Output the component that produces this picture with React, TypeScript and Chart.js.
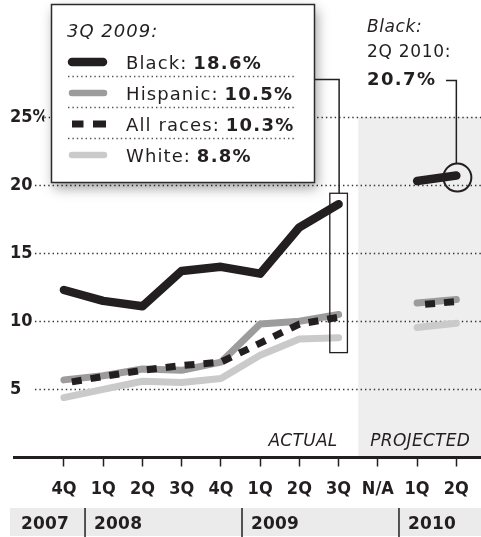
import React, { useEffect, useRef } from 'react';
import { Chart, registerables } from 'chart.js';

Chart.register(...registerables);

// ---------- data ----------
const quarters = ['4Q', '1Q', '2Q', '3Q', '4Q', '1Q', '2Q', '3Q', 'N/A', '1Q', '2Q'];
const years = ['2007', '2008', '2009', '2010'];
const yearFirstQuarter = [0, 1, 5, 9];
const black = [12.3, 11.5, 11.1, 13.7, 14.0, 13.5, 16.9, 18.6, null, 20.3, 20.7];
const hispanic = [5.7, 6.0, 6.5, 6.4, 7.0, 9.8, 10.0, 10.5, null, 11.35, 11.6];
const allRaces = [5.45, 5.95, 6.4, 6.75, 7.0, 8.4, 9.8, 10.3, null, 11.2, 11.45];
const white = [4.4, 5.0, 5.6, 5.5, 5.8, 7.5, 8.7, 8.8, null, 9.55, 9.85];
const yTicks = [5, 10, 15, 20, 25];
const legendTitle = '3Q 2009:';
const legendLabels = ['Black: ', 'Hispanic: ', 'All races: ', 'White: '];
const legendValues = ['18.6%', '10.5%', '10.3%', '8.8%'];
const calloutLines = ['Black:', '2Q 2010:', '20.7%'];
const highlightIndex = 7; // 3Q 2009
const highlightRange = [7.7, 19.4];
const calloutIndex = 10; // 2Q 2010
const actualLabel = 'ACTUAL';
const projectedLabel = 'PROJECTED';

// ---------- styles ----------
const INK = '#231f20';
const HISP = '#9c9c9c';
const WHITE_C = '#cacaca';
const SHADE = '#eeeeee';
const SANS = "'DejaVu Sans', sans-serif";
const NARROW = "'Liberation Sans Narrow', 'DejaVu Sans Condensed', sans-serif";

function setFont(ctx: CanvasRenderingContext2D, font: string, spacing: number) {
  ctx.font = font;
  (ctx as any).letterSpacing = spacing + 'px';
}

function dotted(ctx: CanvasRenderingContext2D, x1: number, x2: number, y: number, color: string) {
  ctx.save();
  ctx.strokeStyle = color;
  ctx.lineWidth = 1.3;
  ctx.setLineDash([1.4, 3]);
  ctx.beginPath();
  ctx.moveTo(x1, y);
  ctx.lineTo(x2, y);
  ctx.stroke();
  ctx.restore();
}

const decor = {
  id: 'decor',
  beforeDatasetsDraw(chart: any) {
    const { ctx, chartArea, scales } = chart;
    const x = scales.x;
    const y = scales.y;
    const sx = (x.getPixelForValue(7) + x.getPixelForValue(8)) / 2;
    const top = y.getPixelForValue(25);
    const bottom = y.getPixelForValue(0);
    ctx.save();
    ctx.fillStyle = SHADE;
    ctx.fillRect(sx, top, chart.width - sx, bottom - top);
    ctx.restore();
    for (const v of yTicks) {
      const py = Math.round(y.getPixelForValue(v)) + 0.5;
      dotted(ctx, v === 25 ? chartArea.left : 35, chart.width, py, '#333');
    }
    // ACTUAL / PROJECTED
    ctx.save();
    ctx.fillStyle = INK;
    setFont(ctx, `oblique 17px ${SANS}`, 0.3);
    ctx.textAlign = 'right';
    ctx.fillText(actualLabel, x.getPixelForValue(7) - 1, 446);
    ctx.textAlign = 'left';
    ctx.fillText(projectedLabel, sx + 12, 446);
    ctx.restore();
  },
  afterDatasetsDraw(chart: any) {
    const { ctx, scales } = chart;
    const x = scales.x;
    const y = scales.y;
    const W = chart.width;

    // legend box
    const boxL = 51, boxT = 4, boxR = 314, boxB = 182;
    ctx.save();
    ctx.shadowColor = 'rgba(0,0,0,0.38)';
    ctx.shadowBlur = 12;
    ctx.shadowOffsetX = 3;
    ctx.shadowOffsetY = 6;
    ctx.fillStyle = '#fff';
    ctx.fillRect(boxL, boxT, boxR - boxL, boxB - boxT);
    ctx.restore();
    ctx.save();
    ctx.strokeStyle = '#2b2b2b';
    ctx.lineWidth = 1.5;
    ctx.strokeRect(boxL + 0.5, boxT + 0.5, boxR - boxL, boxB - boxT);
    ctx.restore();

    ctx.save();
    ctx.fillStyle = INK;
    ctx.textAlign = 'left';
    ctx.textBaseline = 'alphabetic';
    setFont(ctx, `oblique 18px ${SANS}`, 1.0);
    ctx.fillText(legendTitle, 67, 36.5);
    const rowY = [62, 93, 124, 155];
    for (let i = 0; i < legendLabels.length; i++) {
      const cy = rowY[i];
      setFont(ctx, `18px ${SANS}`, 1.1);
      ctx.fillText(legendLabels[i], 126, cy + 6.5);
      const w = ctx.measureText(legendLabels[i]).width;
      setFont(ctx, `bold 18px ${SANS}`, 1.3);
      ctx.fillText(legendValues[i], 126 + w - 1, cy + 6.5);
      if (i < 3) dotted(ctx, 68, 295, Math.round(cy + 14) + 0.5, '#555');
    }
    // swatches
    ctx.lineCap = 'round';
    ctx.strokeStyle = INK;
    ctx.lineWidth = 8.5;
    ctx.beginPath(); ctx.moveTo(72, rowY[0]); ctx.lineTo(103, rowY[0]); ctx.stroke();
    ctx.strokeStyle = HISP;
    ctx.lineWidth = 6.5;
    ctx.beginPath(); ctx.moveTo(72, rowY[1]); ctx.lineTo(104, rowY[1]); ctx.stroke();
    ctx.fillStyle = INK;
    ctx.fillRect(72, rowY[2] - 3.5, 11.5, 7);
    ctx.fillRect(93, rowY[2] - 3.5, 13, 7);
    ctx.strokeStyle = WHITE_C;
    ctx.beginPath(); ctx.moveTo(72, rowY[3]); ctx.lineTo(104, rowY[3]); ctx.stroke();
    ctx.restore();

    // highlight rectangle around 3Q 2009 + connector
    const hx = x.getPixelForValue(highlightIndex);
    const rTop = y.getPixelForValue(highlightRange[1]);
    const rBot = y.getPixelForValue(highlightRange[0]);
    ctx.save();
    ctx.strokeStyle = INK;
    ctx.lineWidth = 1.3;
    ctx.strokeRect(hx - 8.8, rTop, 17.6, rBot - rTop);
    ctx.lineWidth = 1.5;
    ctx.beginPath();
    ctx.moveTo(boxR + 1, 79.5);
    ctx.lineTo(hx + 0.5, 79.5);
    ctx.lineTo(hx + 0.5, rTop);
    ctx.stroke();

    // callout circle for 2Q 2010
    const cx = x.getPixelForValue(calloutIndex);
    const cy = y.getPixelForValue(black[calloutIndex] as number);
    const r = 14;
    ctx.lineWidth = 2;
    ctx.beginPath();
    ctx.arc(cx + 1, cy + 2, r, 0, Math.PI * 2);
    ctx.stroke();
    ctx.lineWidth = 1.5;
    ctx.beginPath();
    ctx.moveTo(446, 80.5);
    ctx.lineTo(cx, 80.5);
    ctx.lineTo(cx, cy + 2 - r);
    ctx.stroke();
    ctx.fillStyle = INK;
    ctx.textAlign = 'left';
    setFont(ctx, `oblique 17px ${SANS}`, 0.6);
    ctx.fillText(calloutLines[0], 367, 31.5);
    setFont(ctx, `17px ${SANS}`, 0.7);
    ctx.fillText(calloutLines[1], 367, 56.5);
    setFont(ctx, `bold 18px ${SANS}`, 1.4);
    ctx.fillText(calloutLines[2], 367, 84.5);
    ctx.restore();

    // x axis line
    const by = y.getPixelForValue(0);
    ctx.save();
    ctx.strokeStyle = INK;
    ctx.lineWidth = 3;
    ctx.beginPath();
    ctx.moveTo(13, by);
    ctx.lineTo(W, by);
    ctx.stroke();
    ctx.restore();

    // year band
    ctx.save();
    ctx.fillStyle = '#ebebeb';
    ctx.fillRect(10, 508, W - 10, 28);
    ctx.strokeStyle = INK;
    ctx.lineWidth = 1.5;
    ctx.fillStyle = INK;
    setFont(ctx, `bold 17px ${SANS}`, 0.2);
    ctx.textAlign = 'left';
    for (let i = 0; i < years.length; i++) {
      const qi = yearFirstQuarter[i];
      let left = 10;
      if (qi > 0) {
        left = (x.getPixelForValue(qi - 1) + x.getPixelForValue(qi)) / 2 + 1.5;
        ctx.beginPath();
        ctx.moveTo(left, 508);
        ctx.lineTo(left, 537);
        ctx.stroke();
      }
      ctx.fillText(years[i], left + (qi > 0 ? 9 : 11), 528.5);
    }
    ctx.restore();
  },
};

export default function App() {
  const ref = useRef<HTMLCanvasElement>(null);
  useEffect(() => {
    const line = (label: string, data: (number | null)[], color: string, width: number, order: number, extra: any = {}) => ({
      label,
      data,
      borderColor: color,
      backgroundColor: color,
      borderWidth: width,
      borderCapStyle: 'round',
      borderJoinStyle: 'round',
      pointRadius: 0,
      pointHoverRadius: 0,
      tension: 0,
      spanGaps: false,
      fill: false,
      order,
      ...extra,
    });
    const chart = new Chart(ref.current as HTMLCanvasElement, {
      type: 'line',
      data: {
        labels: quarters,
        datasets: [
          line('Black', black, INK, 8.5, 0),
          line('Hispanic', hispanic, HISP, 7, 2),
          line('All races', allRaces, INK, 7, 1, { borderDash: [10, 9], borderDashOffset: 11, borderCapStyle: 'butt' }),
          line('White', white, WHITE_C, 7, 3),
        ],
      } as any,
      options: {
        animation: false,
        responsive: true,
        maintainAspectRatio: false,
        layout: { padding: { top: 117, left: 10, right: 3, bottom: 0 } },
        plugins: { legend: { display: false }, tooltip: { enabled: false }, title: { display: false } },
        events: [],
        scales: {
          x: {
            offset: true,
            border: { display: false },
            grid: {
              drawOnChartArea: false,
              drawTicks: true,
              tickLength: 9,
              tickColor: INK,
              tickWidth: 1.5,
              offset: false,
            },
            ticks: {
              color: INK,
              padding: 12,
              maxRotation: 0,
              autoSkip: false,
              font: { family: NARROW, size: 18, weight: 'bold' },
            },
            afterFit: (s: any) => {
              s.height = 79.5;
            },
          },
          y: {
            min: 0,
            max: 25,
            border: { display: false },
            grid: { display: false },
            ticks: {
              stepSize: 5,
              color: INK,
              crossAlign: 'far',
              padding: 0,
              font: { family: NARROW, size: 18, weight: 'bold' },
              callback: (v: any) => (v === 0 ? '' : v === 25 ? '25%' : String(v)),
            },
            afterFit: (s: any) => {
              s.width = 34.3;
            },
          },
        },
      } as any,
      plugins: [decor],
    });
    return () => chart.destroy();
  }, []);
  return (
    <div style={{ position: 'fixed', left: 0, top: 0, width: 481, height: 537, background: '#fff' }}>
      <canvas ref={ref} />
    </div>
  );
}
